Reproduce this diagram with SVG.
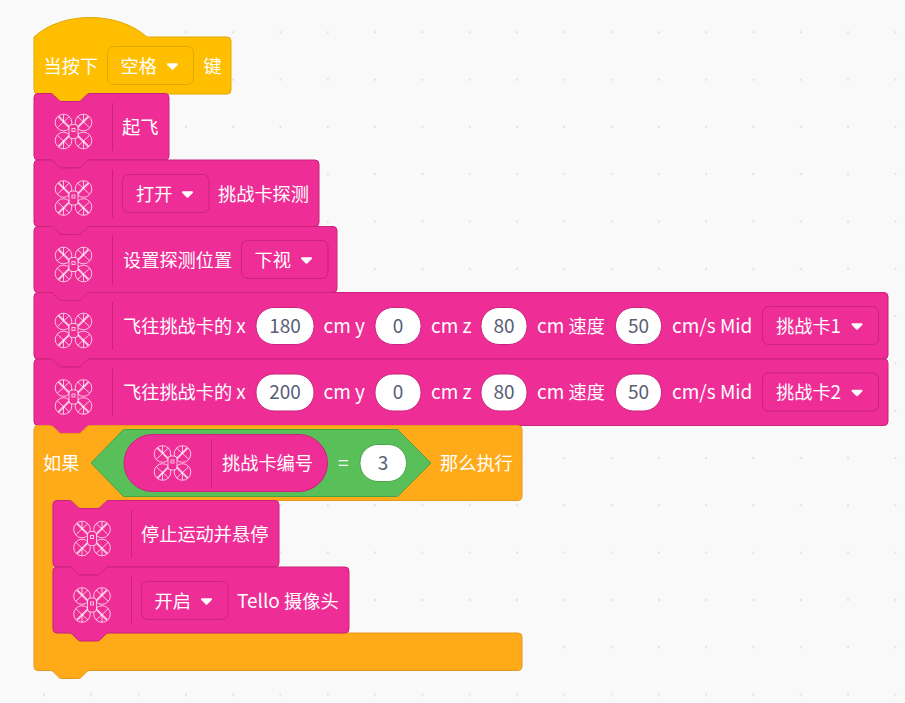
<svg xmlns="http://www.w3.org/2000/svg" width="905" height="703" viewBox="0 0 905 703">
<style>
text{font-family:"Noto Sans CJK SC","Noto Sans",sans-serif;font-size:18.2px;fill:#fff;font-weight:400}
text.v{fill:#575e75;text-anchor:middle;font-size:19px}
.l{font-size:19px}
.m{fill:#ee2e96;stroke:#c9237c;stroke-width:1}
.dd{fill:#ee2e96;stroke:#c9237c;stroke-width:1}
.ddy{fill:#ffbf00;stroke:#e0a800;stroke-width:1}
.f{fill:#fff;stroke:#c9237c;stroke-width:1}
.div{stroke:#c9237c;stroke-width:1}
</style>
<defs>
<pattern id="dots" width="47.3" height="47.3" patternUnits="userSpaceOnUse" x="20.35" y="8.65">
<circle cx="23.65" cy="23.65" r="1.2" fill="#e2e2e2"/>
</pattern>
<path id="caret" d="M-4.500 -1.800H4.500L0 2.700Z" fill="#fff" stroke="#fff" stroke-width="2" stroke-linejoin="round"/>
<g id="drone" fill="none" stroke="#fff" stroke-opacity=".72" stroke-width="1">
<circle cx="-10" cy="-9" r="8.300"/><circle cx="10" cy="-9" r="8.300"/><circle cx="-10" cy="9" r="8.300"/><circle cx="10" cy="9" r="8.300"/>
<path stroke-width="2" d="M-15 -15L-3 -3M15 -15L3 -3M-15 15L-3 3M15 15L3 3"/>
<path d="M-4 -15L-16 -4M-10 -17V-9M4 -15L16 -4M10 -17V-9M-4 15L-16 4M-10 17V9M4 15L16 4M10 17V9"/>
<rect x="-4.500" y="-7" width="9" height="14" rx="3" fill="#ee2e96"/>
<rect x="-1.500" y="-3" width="3" height="3"/>
</g>
</defs>
<rect width="905" height="703" fill="#f9f9f9"/>
<rect width="905" height="703" fill="url(#dots)"/>
<g id="connectors"/>
<g id="hat"><path d="M34 37C62 11 118 11 147 37H227a4 4 0 0 1 4 4V90a4 4 0 0 1-4 4H90c-2 0-3 1-4 2l-4 4c-1 1-2 2-4 2H62c-2 0-3-1-4-2l-4-4c-1-1-2-2-4-2H38a4 4 0 0 1-4-4Z" fill="#ffbf00" stroke="#e0a800"/>
<text x="43.500" y="72.500">当按下</text><rect class="ddy" x="107.500" y="46.500" width="86" height="38" rx="6"/><text x="120.500" y="72.500">空格</text><use href="#caret" x="172.500" y="66"/><text x="203.500" y="72.500">键</text></g>
<g id="takeoff"><path class="m" d="M34 97.500a4 4 0 0 1 4-4h12c2 0 3 1 4 2l4 4c1 1 2 2 4 2h16c2 0 3-1 4-2l4-4c1-1 2-2 4-2H165a4 4 0 0 1 4 4V156a4 4 0 0 1-4 4H90c-2 0-3 1-4 2l-4 4c-1 1-2 2-4 2H62c-2 0-3-1-4-2l-4-4c-1-1-2-2-4-2H38a4 4 0 0 1-4-4Z"/>
<use href="#drone" x="73.500" y="131.500"/><line class="div" x1="112.500" x2="112.500" y1="103" y2="151"/><text x="122" y="134">起飞</text></g>
<g id="card-detect"><path class="m" d="M34 164a4 4 0 0 1 4-4h12c2 0 3 1 4 2l4 4c1 1 2 2 4 2h16c2 0 3-1 4-2l4-4c1-1 2-2 4-2H315a4 4 0 0 1 4 4V222.500a4 4 0 0 1-4 4H90c-2 0-3 1-4 2l-4 4c-1 1-2 2-4 2H62c-2 0-3-1-4-2l-4-4c-1-1-2-2-4-2H38a4 4 0 0 1-4-4Z"/>
<use href="#drone" x="73.500" y="198"/><line class="div" x1="112.500" x2="112.500" y1="169.500" y2="217.500"/><rect class="dd" x="122.500" y="174.500" width="86.500" height="38" rx="6"/><text x="136" y="200.500">打开</text><use href="#caret" x="187.500" y="194"/><text x="218" y="200.500">挑战卡探测</text></g>
<g id="detect-pos"><path class="m" d="M34 230.500a4 4 0 0 1 4-4h12c2 0 3 1 4 2l4 4c1 1 2 2 4 2h16c2 0 3-1 4-2l4-4c1-1 2-2 4-2H333a4 4 0 0 1 4 4V288.500a4 4 0 0 1-4 4H90c-2 0-3 1-4 2l-4 4c-1 1-2 2-4 2H62c-2 0-3-1-4-2l-4-4c-1-1-2-2-4-2H38a4 4 0 0 1-4-4Z"/>
<use href="#drone" x="73.500" y="264.500"/><line class="div" x1="112.500" x2="112.500" y1="236" y2="284"/><text x="123" y="266.500">设置探测位置</text><rect class="dd" x="241.500" y="240.500" width="86.500" height="38" rx="6"/><text x="254.500" y="266.500">下视</text><use href="#caret" x="306.500" y="260"/></g>
<g id="fly1"><path class="m" d="M34 296.500a4 4 0 0 1 4-4h12c2 0 3 1 4 2l4 4c1 1 2 2 4 2h16c2 0 3-1 4-2l4-4c1-1 2-2 4-2H884a4 4 0 0 1 4 4V355a4 4 0 0 1-4 4H90c-2 0-3 1-4 2l-4 4c-1 1-2 2-4 2H62c-2 0-3-1-4-2l-4-4c-1-1-2-2-4-2H38a4 4 0 0 1-4-4Z"/>
<use href="#drone" x="73.500" y="330.500"/><line class="div" x1="112.500" x2="112.500" y1="302" y2="350"/><text x="123" y="332.500">飞往挑战卡的 <tspan class="l">x</tspan></text>
<rect class="f" x="256" y="307.500" width="58" height="37" rx="18"/><text class="v" x="285" y="332.800">180</text><text class="l" x="323.500" y="332.500">cm y</text>
<rect class="f" x="375" y="307.500" width="46" height="37" rx="18"/><text class="v" x="398" y="332.800">0</text><text class="l" x="431" y="332.500">cm z</text>
<rect class="f" x="481" y="307.500" width="46" height="37" rx="18"/><text class="v" x="504" y="332.800">80</text><text x="537" y="332.500"><tspan class="l">cm </tspan>速度</text>
<rect class="f" x="615.500" y="307.500" width="46" height="37" rx="18"/><text class="v" x="638.500" y="332.800">50</text><text class="l" x="672" y="332.500">cm/s Mid</text>
<rect class="dd" x="762.500" y="306.500" width="116" height="38" rx="6"/><text x="776" y="332.500">挑战卡<tspan class="l">1</tspan></text><use href="#caret" x="857" y="326"/></g>
<g id="fly2"><path class="m" d="M34 363a4 4 0 0 1 4-4h12c2 0 3 1 4 2l4 4c1 1 2 2 4 2h16c2 0 3-1 4-2l4-4c1-1 2-2 4-2H884a4 4 0 0 1 4 4V421.500a4 4 0 0 1-4 4H90c-2 0-3 1-4 2l-4 4c-1 1-2 2-4 2H62c-2 0-3-1-4-2l-4-4c-1-1-2-2-4-2H38a4 4 0 0 1-4-4Z"/>
<use href="#drone" x="73.500" y="397"/><line class="div" x1="112.500" x2="112.500" y1="368.500" y2="416.500"/><text x="123" y="399">飞往挑战卡的 <tspan class="l">x</tspan></text>
<rect class="f" x="256" y="374" width="58" height="37" rx="18"/><text class="v" x="285" y="399.300">200</text><text class="l" x="323.500" y="399">cm y</text>
<rect class="f" x="375" y="374" width="46" height="37" rx="18"/><text class="v" x="398" y="399.300">0</text><text class="l" x="431" y="399">cm z</text>
<rect class="f" x="481" y="374" width="46" height="37" rx="18"/><text class="v" x="504" y="399.300">80</text><text x="537" y="399"><tspan class="l">cm </tspan>速度</text>
<rect class="f" x="615.500" y="374" width="46" height="37" rx="18"/><text class="v" x="638.500" y="399.300">50</text><text class="l" x="672" y="399">cm/s Mid</text>
<rect class="dd" x="762.500" y="373" width="116" height="38" rx="6"/><text x="776" y="399">挑战卡<tspan class="l">2</tspan></text><use href="#caret" x="857" y="392.500"/></g>
<g id="if-block"><path d="M34 429.500a4 4 0 0 1 4-4h12c2 0 3 1 4 2l4 4c1 1 2 2 4 2h16c2 0 3-1 4-2l4-4c1-1 2-2 4-2H518a4 4 0 0 1 4 4V496.500a4 4 0 0 1-4 4H109c-2 0-3 1-4 2l-4 4c-1 1-2 2-4 2H81c-2 0-3-1-4-2l-4-4c-1-1-2-2-4-2H57a4 4 0 0 0-4 4V629a4 4 0 0 0 4 4H518a4 4 0 0 1 4 4V666.500a4 4 0 0 1-4 4H90c-2 0-3 1-4 2l-4 4c-1 1-2 2-4 2H62c-2 0-3-1-4-2l-4-4c-1-1-2-2-4-2H38a4 4 0 0 1-4-4Z" fill="#ffab19" stroke="#e5981a"/>
<text x="43" y="469.500">如果</text>
<path d="M91 463L123.500 429.500H397.500L431 463L397.500 496.500H123.500Z" fill="#59c059" stroke="#46a346"/>
<rect class="m" x="124" y="434.500" width="203.500" height="57" rx="28.500"/>
<use href="#drone" x="172.500" y="463"/><line class="div" x1="211.500" x2="211.500" y1="439" y2="487"/><text x="222" y="469.500">挑战卡编号</text>
<text class="l" x="338" y="469.500">=</text>
<rect x="360" y="444.500" width="46.500" height="37" rx="18" fill="#fff" stroke="#46a346"/><text class="v" x="383" y="469.500">3</text>
<text x="440" y="469.500">那么执行</text></g>
<g id="stop"><path class="m" d="M53 504.500a4 4 0 0 1 4-4h12c2 0 3 1 4 2l4 4c1 1 2 2 4 2h16c2 0 3-1 4-2l4-4c1-1 2-2 4-2H275a4 4 0 0 1 4 4V563a4 4 0 0 1-4 4H109c-2 0-3 1-4 2l-4 4c-1 1-2 2-4 2H81c-2 0-3-1-4-2l-4-4c-1-1-2-2-4-2H57a4 4 0 0 1-4-4Z"/>
<use href="#drone" x="92" y="538.500"/><line class="div" x1="131.500" x2="131.500" y1="510" y2="558"/><text x="141" y="541">停止运动并悬停</text></g>
<g id="camera"><path class="m" d="M53 571a4 4 0 0 1 4-4h12c2 0 3 1 4 2l4 4c1 1 2 2 4 2h16c2 0 3-1 4-2l4-4c1-1 2-2 4-2H345a4 4 0 0 1 4 4V629a4 4 0 0 1-4 4H109c-2 0-3 1-4 2l-4 4c-1 1-2 2-4 2H81c-2 0-3-1-4-2l-4-4c-1-1-2-2-4-2H57a4 4 0 0 1-4-4Z"/>
<use href="#drone" x="92" y="605"/><line class="div" x1="131.500" x2="131.500" y1="576" y2="624"/><rect class="dd" x="141.500" y="581.500" width="86.500" height="38" rx="6"/><text x="154.500" y="607.500">开启</text><use href="#caret" x="206.500" y="601"/><text x="237" y="607.500"><tspan class="l">Tello </tspan>摄像头</text></g>
</svg>
